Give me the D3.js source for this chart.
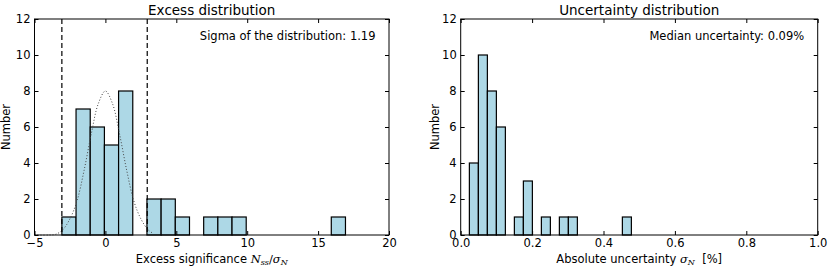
<!DOCTYPE html>
<html>
<head>
<meta charset="utf-8">
<script src="https://cdn.jsdelivr.net/npm/d3@7"></script>
<style>
  body { margin: 0; background: #fff; }
  text { font-family: "DejaVu Sans", sans-serif; fill: #000; }
</style>
</head>
<body>
<script>
// left panel: excess significance histogram (bins of width ~1)
let excessBinStart = -3.07;
let excessBinWidth = 1.0;
let excessCounts = [1, 7, 6, 5, 8, 0, 2, 2, 1, 0, 1, 1, 1, 0, 0, 0, 0, 0, 0, 1];
let excessCutLines = [-3.07, 2.95];
// gaussian overlay
let gaussX = [-5, -4, -3.5, -3, -2.5, -2, -1.5, -1, -0.5, 0, 0.5, 1, 1.5, 2, 2.5, 3, 3.3];
let gaussY = [0, 0, 0.04, 0.3, 0.9, 1.9, 3.6, 5.6, 7.3, 8, 7.3, 5.6, 3.6, 1.9, 0.9, 0.3, 0.12];
let excessXTicks = [-5, 0, 5, 10, 15, 20];

// right panel: absolute uncertainty histogram
let uncBinStart = 0.0243;
let uncBinWidth = 0.02521;
let uncCounts = [4, 10, 8, 6, 0, 1, 3, 0, 1, 0, 1, 1, 0, 0, 0, 0, 0, 1];
let uncXTicks = [0, 0.2, 0.4, 0.6, 0.8, 1.0];

let yTicks = [0, 2, 4, 6, 8, 10, 12];

let svg = d3.select("body").append("svg").attr("width", 830).attr("height", 277);

let plotTop = 19, plotBottom = 235;
let fs = 11.5;
let panels = [
    {
        x0: 34.5, x1: 389, domain: [-5, 20], ticks: excessXTicks, fmt: d => d3.format("d")(d).replace("-", "\u2212"),
        start: excessBinStart, width: excessBinWidth, counts: excessCounts,
        title: "Excess distribution", note: "Sigma of the distribution: 1.19", ylabX: 10
    },
    {
        x0: 460.7, x1: 817.7, domain: [0, 1], ticks: uncXTicks, fmt: d3.format(".1f"),
        start: uncBinStart, width: uncBinWidth, counts: uncCounts,
        title: "Uncertainty distribution", note: "Median uncertainty: 0.09%", ylabX: 439
    }
];

panels.forEach((p, idx) => {
    let x = d3.scaleLinear().domain(p.domain).range([p.x0, p.x1]);
    let y = d3.scaleLinear().domain([0, 12]).range([plotBottom, plotTop]);
    let g = svg.append("g").attr("class", `panel${idx}`);

    let bins = p.counts.map((c, i) => ({ x0: p.start + i * p.width, x1: p.start + (i + 1) * p.width, n: c }))
        .filter(b => b.n > 0);

    g.selectAll("rect.bar")
        .data(bins)
        .enter().append("rect")
            .attr("class", "bar")
            .attr("x", d => x(d.x0))
            .attr("y", d => y(d.n))
            .attr("width", d => x(d.x1) - x(d.x0))
            .attr("height", d => y(0) - y(d.n))
            .attr("fill", "#add8e6")
            .attr("stroke", "#000")
            .attr("stroke-width", 1.2);

    if (idx === 0) {
        let line = d3.line()
            .x((d, i) => x(gaussX[i]))
            .y((d, i) => y(gaussY[i]))
            .curve(d3.curveCatmullRom);
        g.append("path")
            .attr("d", line(gaussX))
            .attr("fill", "none")
            .attr("stroke", "#444")
            .attr("stroke-width", 1)
            .attr("stroke-dasharray", "1,2");

        g.selectAll("line.cut")
            .data(excessCutLines)
            .enter().append("line")
                .attr("class", "cut")
                .attr("x1", d => x(d)).attr("x2", d => x(d))
                .attr("y1", plotTop).attr("y2", plotBottom)
                .attr("stroke", "#000")
                .attr("stroke-width", 1.2)
                .attr("stroke-dasharray", "5,3");
    }

    // axes with inward ticks on all four sides
    let tk = 4;
    g.append("g").attr("transform", `translate(0,${plotBottom})`)
        .call(d3.axisBottom(x).tickValues(p.ticks).tickFormat(p.fmt).tickSize(-tk).tickPadding(4))
        .call(a => a.select(".domain").remove());
    g.append("g").attr("transform", `translate(0,${plotTop})`)
        .call(d3.axisTop(x).tickValues(p.ticks).tickFormat("").tickSize(-tk))
        .call(a => a.select(".domain").remove());
    g.append("g").attr("transform", `translate(${p.x0},0)`)
        .call(d3.axisLeft(y).tickValues(yTicks).tickFormat(d3.format("d")).tickSize(-tk).tickPadding(4))
        .call(a => a.select(".domain").remove());
    g.append("g").attr("transform", `translate(${p.x1},0)`)
        .call(d3.axisRight(y).tickValues(yTicks).tickFormat("").tickSize(-tk))
        .call(a => a.select(".domain").remove());
    g.selectAll(".tick text").attr("font-size", fs).attr("font-family", "DejaVu Sans");
    g.selectAll(".tick line").attr("stroke", "#000");

    g.append("rect")
        .attr("x", p.x0).attr("y", plotTop)
        .attr("width", p.x1 - p.x0).attr("height", plotBottom - plotTop)
        .attr("fill", "none").attr("stroke", "#000").attr("stroke-width", 1);

    g.append("text")
        .attr("x", (p.x0 + p.x1) / 2).attr("y", 14.5)
        .attr("text-anchor", "middle")
        .attr("font-size", 13.5)
        .text(p.title);

    g.append("text")
        .attr("x", p.x1 - 13.5).attr("y", 39.5)
        .attr("text-anchor", "end")
        .attr("font-size", fs)
        .text(p.note);

    g.append("text")
        .attr("transform", `translate(${p.ylabX},${(plotTop + plotBottom) / 2}) rotate(-90)`)
        .attr("text-anchor", "middle")
        .attr("font-size", fs)
        .text("Number");

    let xl = g.append("text")
        .attr("x", (p.x0 + p.x1) / 2).attr("y", 263)
        .attr("text-anchor", "middle")
        .attr("font-size", fs);
    if (idx === 0) {
        xl.append("tspan").text("Excess significance ");
        xl.append("tspan").attr("font-family", "DejaVu Serif").attr("font-style", "italic").text("N");
        xl.append("tspan").attr("font-family", "DejaVu Serif").attr("font-style", "italic").attr("font-size", 8).attr("dy", 2).text("ss");
        xl.append("tspan").attr("font-family", "DejaVu Serif").attr("dy", -2).text("/");
        xl.append("tspan").attr("font-family", "DejaVu Serif").attr("font-style", "italic").text("\u03c3");
        xl.append("tspan").attr("font-family", "DejaVu Serif").attr("font-style", "italic").attr("font-size", 8).attr("dy", 2).text("N");
    } else {
        xl.append("tspan").text("Absolute uncertainty ");
        xl.append("tspan").attr("font-family", "DejaVu Serif").attr("font-style", "italic").text("\u03c3");
        xl.append("tspan").attr("font-family", "DejaVu Serif").attr("font-style", "italic").attr("font-size", 8).attr("dy", 2).text("N");
        xl.append("tspan").attr("dy", -2).text("\u00a0 [%]");
    }
});
</script>
</body>
</html>
